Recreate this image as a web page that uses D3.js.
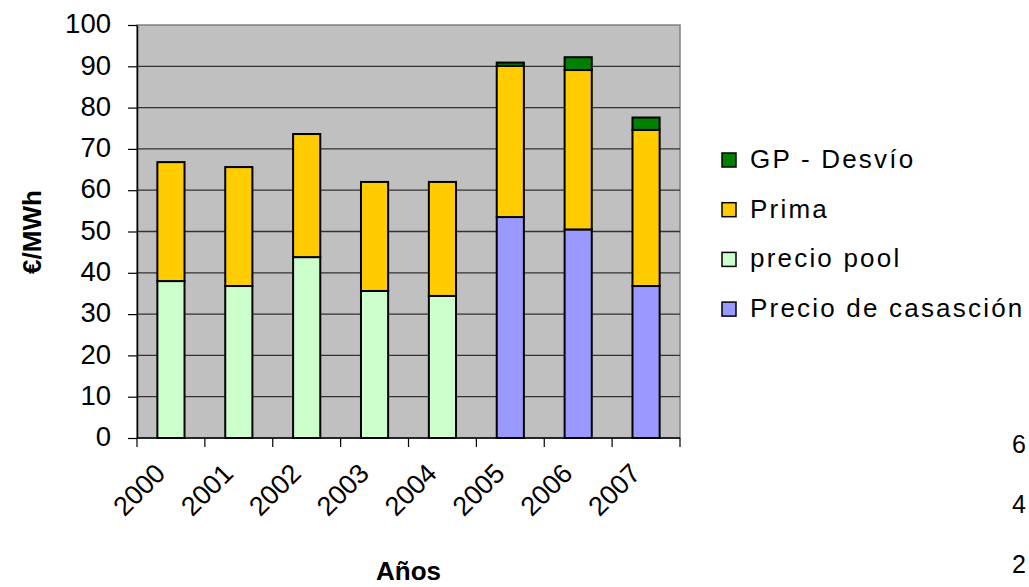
<!DOCTYPE html>
<html>
<head>
<meta charset="utf-8">
<script src="https://cdn.jsdelivr.net/npm/d3@7"></script>
<style>
  html, body { margin: 0; padding: 0; background: #fff; }
  svg { display: block; font-family: "Liberation Sans", Arial, sans-serif; }
</style>
</head>
<body>
<svg id="chart" width="1029" height="587"></svg>
<script>
// ---- data ----
const years = ["2000", "2001", "2002", "2003", "2004", "2005", "2006", "2007"];
const precioCasacion = [0, 0, 0, 0, 0, 53.5, 50.5, 36.8];
const precioPool = [38, 36.8, 43.8, 35.6, 34.4, 0, 0, 0];
const prima = [28.8, 28.8, 29.8, 26.4, 27.6, 36.6, 38.6, 37.8];
const gpDesvio = [0, 0, 0, 0, 0, 0.8, 3.1, 3.0];
const seriesNames = ["Precio de casasción", "precio pool", "Prima", "GP - Desvío"];
const yTicks = [0, 10, 20, 30, 40, 50, 60, 70, 80, 90, 100];
const strayLabels = ["6", "4", "2"];

const colors = ["#9999FF", "#CCFFCC", "#FFCC00", "#008000"];
const seriesData = [precioCasacion, precioPool, prima, gpDesvio];

const rows = years.map((y, i) => {
  const r = { year: y };
  seriesNames.forEach((n, k) => r[n] = seriesData[k][i]);
  return r;
});

const svg = d3.select("#chart");
const plot = { left: 137, right: 680, top: 25, bottom: 438 };

const x = d3.scaleBand().domain(years).range([plot.left, plot.right]);
const y = d3.scaleLinear().domain([0, 100]).range([plot.bottom, plot.top]);

// plot background
svg.append("rect")
  .attr("x", plot.left).attr("y", plot.top)
  .attr("width", plot.right - plot.left).attr("height", plot.bottom - plot.top)
  .attr("fill", "#C0C0C0").attr("stroke", "#808080").attr("stroke-width", 1.5);

// grid lines
svg.append("g").selectAll("line").data(yTicks.filter(t => t > 0 && t < 100)).join("line")
  .attr("x1", plot.left).attr("x2", plot.right)
  .attr("y1", d => y(d)).attr("y2", d => y(d))
  .attr("stroke", "#333").attr("stroke-width", 1.3);

// stacked bars
const stack = d3.stack().keys(seriesNames)(rows);
const bw = x.bandwidth() * 0.4;
stack.forEach((layer, k) => {
  svg.append("g").selectAll("rect")
    .data(layer.filter(d => d[1] - d[0] > 0))
    .join("rect")
    .attr("x", d => x(d.data.year) + (x.bandwidth() - bw) / 2)
    .attr("width", bw)
    .attr("y", d => y(d[1]))
    .attr("height", d => y(d[0]) - y(d[1]))
    .attr("fill", colors[k])
    .attr("stroke", "#000")
    .attr("stroke-width", 2);
});

// y axis
const yAxis = d3.axisLeft(y).tickValues(yTicks).tickSize(9).tickPadding(17).tickSizeOuter(0);
const gy = svg.append("g").attr("transform", `translate(${plot.left},0)`).call(yAxis);
gy.select(".domain").attr("stroke", "#000").attr("stroke-width", 1.5);
gy.selectAll(".tick line").attr("stroke", "#000").attr("stroke-width", 1.2);
gy.selectAll(".tick text").attr("font-size", 27.5).attr("fill", "#000")
  .attr("font-family", "Liberation Sans, Arial, sans-serif").attr("dy", "0.28em");

// x axis: ticks at category boundaries
const gx = svg.append("g");
gx.append("line").attr("x1", plot.left).attr("x2", plot.right)
  .attr("y1", plot.bottom).attr("y2", plot.bottom).attr("stroke", "#000").attr("stroke-width", 1.5);
const bounds = years.map(d => x(d)).concat([plot.right]);
gx.selectAll("line.tk").data(bounds).join("line").attr("class", "tk")
  .attr("x1", d => d).attr("x2", d => d)
  .attr("y1", plot.bottom).attr("y2", plot.bottom + 9)
  .attr("stroke", "#000").attr("stroke-width", 1.2);
gx.selectAll("text").data(years).join("text")
  .attr("transform", d => `translate(${x(d) + x.bandwidth() / 2 - 4},${plot.bottom + 37}) rotate(-45)`)
  .attr("text-anchor", "end")
  .attr("font-size", 27)
  .attr("fill", "#000")
  .text(d => d);

// axis titles
svg.append("text")
  .attr("x", (plot.left + plot.right) / 2).attr("y", 580)
  .attr("text-anchor", "middle").attr("font-size", 26).attr("font-weight", "bold")
  .text("Años");
svg.append("text")
  .attr("transform", "translate(41,232) rotate(-90)")
  .attr("text-anchor", "middle").attr("font-size", 26).attr("font-weight", "bold")
  .text("€/MWh");

// legend (reverse order)
const legendOrder = [3, 2, 1, 0];
const lg = svg.append("g");
legendOrder.forEach((k, i) => {
  const base = 168 + i * 49.7;
  lg.append("rect")
    .attr("x", 722).attr("y", base - 15).attr("width", 14).attr("height", 14)
    .attr("fill", colors[k]).attr("stroke", "#000").attr("stroke-width", 1.5);
  lg.append("text")
    .attr("x", 750).attr("y", base)
    .attr("font-size", 26).attr("letter-spacing", "2.2px").attr("fill", "#000")
    .text(seriesNames[k]);
});

// stray labels at right edge
svg.append("g").selectAll("text").data(strayLabels).join("text")
  .attr("x", 1012).attr("y", (d, i) => 453 + i * 60)
  .attr("font-size", 25).attr("fill", "#000")
  .text(d => d);
</script>
</body>
</html>
